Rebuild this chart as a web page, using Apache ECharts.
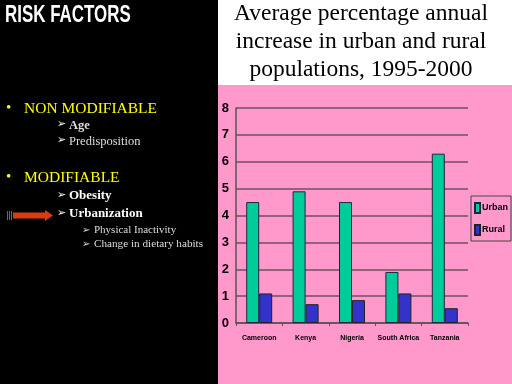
<!DOCTYPE html>
<html><head><meta charset="utf-8">
<script src="https://cdn.jsdelivr.net/npm/echarts@6/dist/echarts.min.js"></script>
<style>html,body{margin:0;padding:0;background:#000}#c{width:512px;height:384px}</style>
</head><body><div id="c"></div>
<script>
const categories = ['Cameroon', 'Kenya', 'Nigeria', 'South Africa', 'Tanzania'];
const urban = [4.5, 4.9, 4.5, 1.9, 6.3];
const rural = [1.1, 0.7, 0.85, 1.1, 0.55];
const seriesNames = ['Urban', 'Rural'];
const titleLines = ['Average percentage annual', 'increase in urban and rural', 'populations, 1995-2000'];
const yTicks = [0, 1, 2, 3, 4, 5, 6, 7, 8];

const sans = "'Liberation Sans', Arial, sans-serif";
const serif = "'Liberation Serif', 'DejaVu Serif', serif";
const chart = echarts.init(document.getElementById('c'), null, {renderer: 'canvas'});

const leftTexts = [
  {x: 6, y: 101, text: '•', font: '15px ' + serif, fill: '#ffff00'},
  {x: 24, y: 101, text: 'NON MODIFIABLE', font: '15.5px ' + serif, fill: '#ffff00'},
  {x: 57, y: 119, text: '➢', font: '11px DejaVu Sans', fill: '#fff'},
  {x: 69, y: 119, text: 'Age', font: 'bold 12.5px ' + serif, fill: '#ddd'},
  {x: 57, y: 135, text: '➢', font: '11px DejaVu Sans', fill: '#fff'},
  {x: 69, y: 135, text: 'Predisposition', font: '12.5px ' + serif, fill: '#ddd'},
  {x: 6, y: 170, text: '•', font: '15px ' + serif, fill: '#ffff00'},
  {x: 24, y: 170, text: 'MODIFIABLE', font: '15.5px ' + serif, fill: '#ffff00'},
  {x: 57, y: 190, text: '➢', font: '11px DejaVu Sans', fill: '#fff'},
  {x: 69, y: 189, text: 'Obesity', font: 'bold 13px ' + serif, fill: '#fff'},
  {x: 57, y: 208, text: '➢', font: '11px DejaVu Sans', fill: '#fff'},
  {x: 69, y: 207, text: 'Urbanization', font: 'bold 13px ' + serif, fill: '#fff'},
  {x: 82, y: 225, text: '➢', font: '10px DejaVu Sans', fill: '#ddd'},
  {x: 94, y: 225, text: 'Physical Inactivity', font: '11px ' + serif, fill: '#ddd'},
  {x: 82, y: 239, text: '➢', font: '10px DejaVu Sans', fill: '#ddd'},
  {x: 94, y: 239, text: 'Change in dietary habits', font: '11.2px ' + serif, fill: '#ddd'}
];

const graphics = [
  {type: 'rect', shape: {x: 218, y: 0, width: 294, height: 85}, style: {fill: '#fff'}, z: -10},
  {type: 'rect', shape: {x: 218, y: 85, width: 294, height: 299}, style: {fill: '#ff99cc'}, z: -10},
  {type: 'text', x: 5, y: 4, scaleX: 0.72, style: {text: 'RISK FACTORS', font: 'bold 23.5px ' + sans, fill: '#fff'}},
  // red arrow
  {type: 'rect', shape: {x: 7, y: 211, width: 1, height: 9}, style: {fill: '#d83c10'}},
  {type: 'rect', shape: {x: 9, y: 211, width: 1, height: 9}, style: {fill: '#d83c10'}},
  {type: 'rect', shape: {x: 11, y: 211, width: 1, height: 9}, style: {fill: '#d83c10'}},
  {type: 'polygon', shape: {points: [[13, 212.5], [45, 212.5], [45, 210], [53, 215.5], [45, 221], [45, 218.5], [13, 218.5]]}, style: {fill: '#d83c10'}}
];
leftTexts.forEach(t => graphics.push({type: 'text', x: t.x, y: t.y, style: {text: t.text, font: t.font, fill: t.fill}}));
titleLines.forEach((l, i) => graphics.push({type: 'text', x: 361, y: 2 + i * 28, style: {text: l, font: '23.5px ' + serif, fill: '#000', align: 'center'}}));

chart.setOption({
  backgroundColor: '#000',
  animation: false,
  graphic: graphics,
  grid: {left: 236, right: 44, top: 108, bottom: 61},
  legend: {
    left: 471, top: 196, orient: 'vertical', icon: 'rect', itemWidth: 5, itemHeight: 10, itemGap: 10,
    borderColor: '#444', borderWidth: 1, padding: [6, 3, 5, 3],
    textStyle: {fontFamily: sans, fontWeight: 'bold', fontSize: 9, color: '#000', padding: [0, 0, 0, -3]},
    data: seriesNames
  },
  xAxis: {
    type: 'category', data: categories,
    axisLine: {lineStyle: {color: '#555', width: 1.5}},
    axisTick: {show: true, length: 3, lineStyle: {color: '#555'}},
    axisLabel: {fontFamily: sans, fontWeight: 'bold', fontSize: 7, color: '#000', margin: 12, interval: 0}
  },
  yAxis: {
    type: 'value', min: 0, max: 8, interval: 1,
    axisLine: {show: true, lineStyle: {color: '#555', width: 1.5}},
    axisTick: {show: false},
    axisLabel: {fontFamily: sans, fontWeight: 'bold', fontSize: 13, color: '#000', margin: 7,
      formatter: v => yTicks.includes(v) ? String(v) : ''},
    splitLine: {lineStyle: {color: '#6e5060', width: 1.5}}
  },
  series: [
    {name: seriesNames[0], type: 'bar', data: urban, barWidth: 13, barGap: '0%',
     itemStyle: {color: '#00cc99', borderColor: '#224', borderWidth: 1}},
    {name: seriesNames[1], type: 'bar', data: rural, barWidth: 13,
     itemStyle: {color: '#3333cc', borderColor: '#222', borderWidth: 1}}
  ]
});
</script></body></html>
